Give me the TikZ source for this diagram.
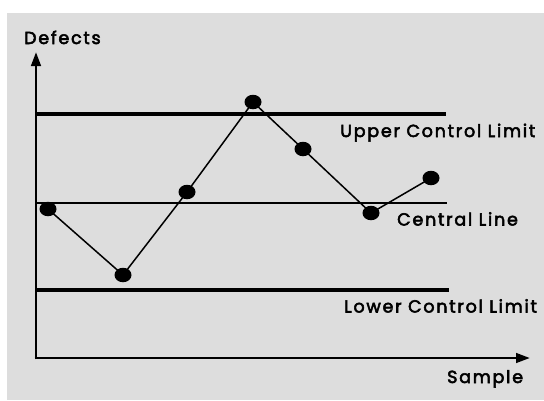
\documentclass[tikz,border=0pt]{standalone}
\usepackage{fontspec}
\setmainfont{Poppins}
\newfontfamily\lblfont{Poppins}[LetterSpace=10, FakeBold=3]
\usetikzlibrary{arrows.meta,shapes.geometric}
\definecolor{panel}{RGB}{221,221,221}
\tikzset{
  axis/.style={line width=2.8pt, -{Triangle[length=14pt,width=9.5pt]}},
  limitline/.style={line width=3.7pt},
  centerline/.style={line width=2.4pt},
  datapt/.style={ellipse, fill=black, minimum width=17pt, minimum height=14.5pt, inner sep=0pt},
  dataline/.style={line width=1.5pt},
  lbl/.style={font=\lblfont\fontsize{17.5}{20}\selectfont, anchor=base west, inner sep=0pt}
}
\begin{document}
\begin{tikzpicture}[x=1pt, y=-1pt]
  \useasboundingbox (0,0) rectangle (544,400);
  \fill[white] (0,0) rectangle (544,400);
  \fill[panel] (7,13) rectangle (544,400);

  % axes
  \coordinate (O) at (36,358);
  \coordinate (ytop) at (36,52);
  \coordinate (xend) at (530,358);
  \draw[axis] (36,359.4) -- (ytop);
  \draw[axis] (34.6,358) -- (xend);

  % control lines
  \coordinate (ucl0) at (36,114);  \coordinate (ucl1) at (446,114);
  \coordinate (cl0)  at (36,203);  \coordinate (cl1)  at (447,203);
  \coordinate (lcl0) at (36,290);  \coordinate (lcl1) at (449,290);
  \draw[limitline] (ucl0) -- (ucl1);
  \draw[centerline] (cl0) -- (cl1);
  \draw[limitline] (lcl0) -- (lcl1);

  % samples
  \node[datapt] (p1) at (48,209) {};
  \node[datapt] (p2) at (123,275) {};
  \node[datapt] (p3) at (187,192) {};
  \node[datapt] (p4) at (253,102) {};
  \node[datapt] (p5) at (303,149) {};
  \node[datapt] (p6) at (371,213) {};
  \node[datapt] (p7) at (431,178) {};
  \draw[dataline] (p1.center) -- (p2.center) -- (p3.center) -- (p4.center)
    -- (p5.center) -- (p6.center) -- (p7.center);

  % labels
  \node[lbl] (ylab) at (24,44) {Defects};
  \node[lbl] (xlab) at (447,383) {Sample};
  \node[lbl] (ucllab) at (340,137) {Upper Control Limit};
  \node[lbl] (cllab) at (397,225.5) {Central Line};
  \node[lbl] (lcllab) at (344,312.5) {Lower Control Limit};
\end{tikzpicture}
\end{document}
